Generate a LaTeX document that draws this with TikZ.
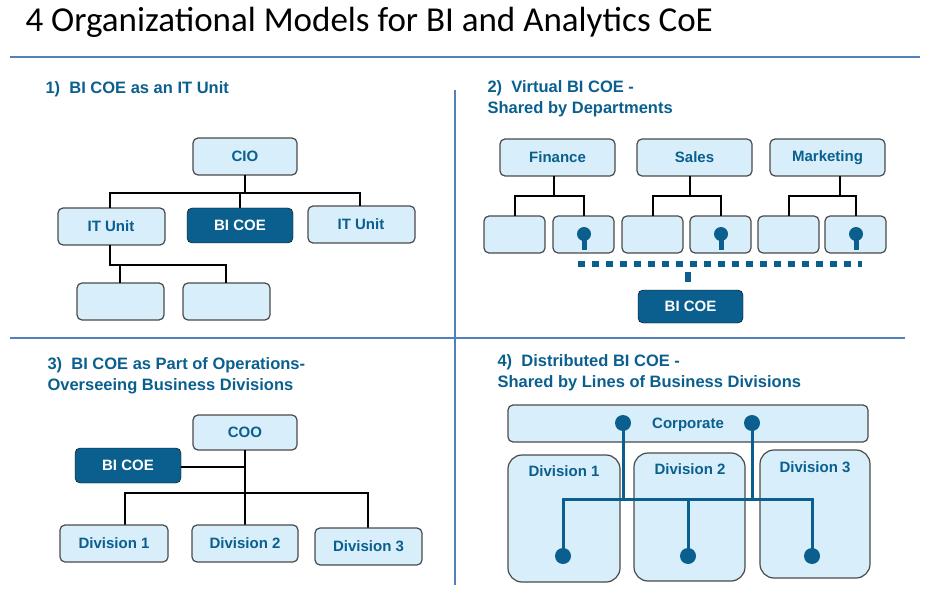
\documentclass[tikz,border=0pt]{standalone}
\usepackage{fontspec}
\setmainfont{Liberation Sans}
\newfontfamily\carl{Carlito}
\begin{document}
\definecolor{dk}{HTML}{0A5F8E}
\definecolor{lt}{HTML}{D8EEFB}
\definecolor{bd}{HTML}{4A4A4A}
\definecolor{rl}{HTML}{4F81BD}
\begin{tikzpicture}[x=1pt,y=-1pt,
  bx/.style={draw=bd,line width=1.2pt,fill=lt,rounded corners=5pt},
  dbx/.style={fill=dk,rounded corners=5pt},
  lab/.style={font=\bfseries\fontsize{15}{17}\selectfont,text=dk},
  wlab/.style={font=\bfseries\fontsize{15}{17}\selectfont,text=white},
  hd/.style={font=\bfseries\fontsize{16.5}{21}\selectfont,text=dk,anchor=west},
  ln/.style={line width=2pt,black},
  bl/.style={line width=3pt,dk},
  dot/.style={circle,fill=dk,inner sep=0pt,minimum size=16pt}]
\useasboundingbox (0,0) rectangle (937,596);
\node[anchor=west,font=\carl\fontsize{35}{38}\selectfont] (title) at (22,22) {4 Organizational Models for BI and Analytics CoE};
\draw[rl,line width=2.5pt] (10,57) -- (920,57);
\draw[rl,line width=1.5pt] (455,90) -- (455,585);
\draw[rl,line width=1.5pt] (10,338) -- (905,338);
% Q1
\node[hd] (h1) at (42,89) {1)\ \ BI COE as an IT Unit};
\draw[bx] (193,138) rectangle (297,175); \node[lab] (cio) at (245,156.5) {CIO};
\draw[bx] (58,208) rectangle (165,245); \node[lab] (it1) at (111,226.5) {IT Unit};
\draw[dbx] (187,208) rectangle (293,243); \node[wlab] (bi1) at (240,225.5) {BI COE};
\draw[bx] (308,206) rectangle (415,243); \node[lab] (it2) at (361,224.5) {IT Unit};
\draw[bx] (77,283) rectangle (164,320); \coordinate (e1) at (120,283);
\draw[bx] (183,283) rectangle (270,320); \coordinate (e2) at (226,283);
\draw[ln] (245,175) -- (245,193);
\draw[ln] (110,208) -- (110,193) -- (360,193) -- (360,206);
\draw[ln] (240,193) -- (240,208);
\draw[ln] (110,245) -- (110,265) -- (120,265);
\draw[ln] (120,283) -- (120,265) -- (226,265) -- (226,283);
% Q2
\node[hd,align=left] (h2) at (484,99) {2)\ \ Virtual BI COE -\\Shared by Departments};
\foreach \n/\x/\t in {fin/500/Finance,sal/637/Sales,mar/770/Marketing}{
  \draw[bx] (\x,139) rectangle ++(115,37); \node[lab] (\n) at (\x+57.5,157.5) {\t};}
\foreach \a/\b/\c in {484/553/554,622/690/690,758/825/840}{
  \draw[bx] (\a,216) rectangle ++(61,37);
  \draw[bx] (\b,216) rectangle ++(61,37);
  \draw[ln] (\c,176) -- (\c,196);
  \draw[ln] (\a+31,216) -- (\a+31,196) -- (\b+31,196) -- (\b+31,216);
  \node[dot,minimum size=14pt] (b\a) at (\b+31,234) {};
  \draw[dk,line width=5pt] (\b+31,238) -- (\b+31,250);}
\draw[dk,line width=6pt,dash pattern=on 7pt off 7pt] (578,264) -- (862,264);
\draw[dk,line width=6pt] (688,272) -- (688,282);
\draw[dbx] (638,290) rectangle (743,323); \node[wlab] (bi2) at (690.5,306.5) {BI COE};
% Q3
\node[hd,align=left] (h3) at (44,376) {3)\ \ BI COE as Part of Operations-\\Overseeing Business Divisions};
\draw[bx] (193,415) rectangle (297,450); \node[lab] (coo) at (245,432.5) {COO};
\draw[dbx] (75,448) rectangle (181,483); \node[wlab] (bi3) at (128,465.5) {BI COE};
\draw[ln] (245,450) -- (245,493);
\draw[ln] (181,467) -- (245,467);
\draw[ln] (125,525) -- (125,493) -- (368,493) -- (368,528);
\draw[ln] (245,493) -- (245,525);
\draw[bx] (60,525) rectangle (168,562); \node[lab] (d31) at (114,543.5) {Division 1};
\draw[bx] (192,525) rectangle (298,562); \node[lab] (d32) at (245,543.5) {Division 2};
\draw[bx] (315,528) rectangle (422,565); \node[lab] (d33) at (368.5,546.5) {Division 3};
% Q4
\node[hd,align=left] (h4) at (494,373) {4)\ \ Distributed BI COE -\\Shared by Lines of Business Divisions};
\draw[bx] (508,405) rectangle (868,442); \node[lab] (corp) at (688,425) {Corporate};
\draw[bx,rounded corners=14pt] (508,455) rectangle (620,582); \node[lab] (d1) at (564,471) {Division 1};
\draw[bx,rounded corners=14pt] (634,453) rectangle (745,581); \node[lab] (d2) at (690,469) {Division 2};
\draw[bx,rounded corners=14pt] (760,450) rectangle (870,578); \node[lab] (d3) at (815,467) {Division 3};
\node[dot] (c1) at (623,423) {};
\node[dot] (c2) at (752,423) {};
\draw[bl] (c1.center) -- (623,499);
\draw[bl] (c2.center) -- (752,499);
\draw[bl] (563,556) -- (563,499) -- (812,499) -- (812,556);
\draw[bl] (688,499) -- (688,556);
\node[dot] (p1) at (563,556) {};
\node[dot] (p2) at (688,556) {};
\node[dot] (p3) at (812,556) {};
\end{tikzpicture}
\end{document}
